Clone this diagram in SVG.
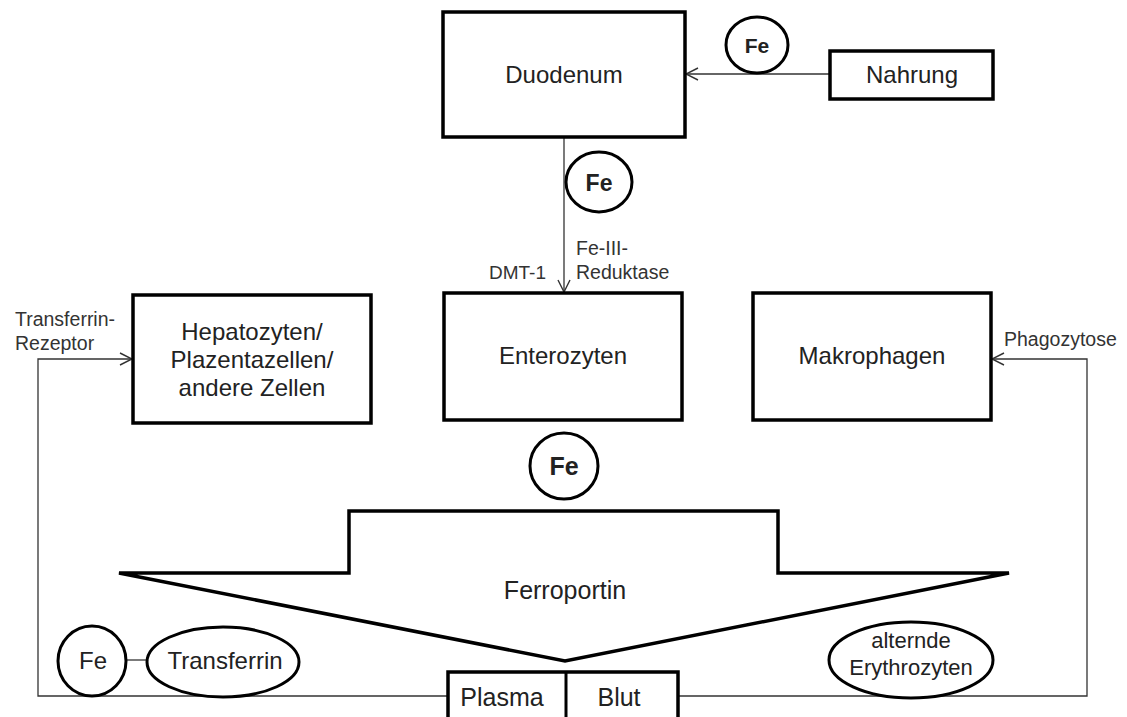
<svg xmlns="http://www.w3.org/2000/svg" width="1127" height="717" viewBox="0 0 1127 717">
<style>
.box{fill:#fff;stroke:#000;stroke-width:3.5}
.ell{fill:#fff;stroke:#000;stroke-width:3}
.con{fill:none;stroke:#333;stroke-width:1.3}
.t{font-family:"Liberation Sans",Arial,sans-serif;font-size:24px;fill:#222;text-anchor:middle}
.s{font-family:"Liberation Sans",Arial,sans-serif;font-size:19.5px;fill:#333}
.b{font-weight:bold}
</style>
<defs>
<marker id="arr" markerUnits="userSpaceOnUse" markerWidth="14" markerHeight="14" viewBox="0 0 14 14" refX="13" refY="7" orient="auto">
<path d="M1,1 L13,7 L1,13" fill="none" stroke="#333" stroke-width="1.4"/>
</marker>
</defs>
<rect width="1127" height="717" fill="#fff"/>
<g id="connectors">
<line class="con" x1="830" y1="74" x2="686" y2="74" marker-end="url(#arr)"/>
<line class="con" x1="564" y1="137" x2="564" y2="292" marker-end="url(#arr)"/>
<polyline class="con" points="448,696 38,696 38,359 132,359" marker-end="url(#arr)"/>
<polyline class="con" points="678,696 1087,696 1087,359 992,359" marker-end="url(#arr)"/>
<line class="con" x1="126" y1="660" x2="148" y2="660"/>
</g>
<g id="duodenum">
<rect class="box" x="443" y="12" width="242" height="125"/>
<text class="t" x="564" y="83">Duodenum</text>
</g>
<g id="nahrung">
<rect class="box" x="830" y="51" width="163" height="48"/>
<text class="t" x="912" y="83">Nahrung</text>
</g>
<g id="fe-top">
<ellipse class="ell" cx="757" cy="45" rx="31" ry="28"/>
<text class="t b" x="757" y="53" style="font-size:21px">Fe</text>
</g>
<g id="fe-mid">
<ellipse class="ell" cx="599" cy="182" rx="33" ry="30"/>
<text class="t b" x="599" y="191" style="font-size:23px">Fe</text>
</g>
<g id="labels-dmt">
<text class="s" x="546" y="279" text-anchor="end" style="font-size:19px">DMT-1</text>
<text class="s" x="576" y="255">Fe-III-</text>
<text class="s" x="576" y="279">Reduktase</text>
</g>
<g id="hepatozyten">
<rect class="box" x="133" y="295" width="238" height="128"/>
<text class="t" x="252" y="340">Hepatozyten/</text>
<text class="t" x="252" y="368">Plazentazellen/</text>
<text class="t" x="252" y="396">andere Zellen</text>
</g>
<g id="label-transferrin-rezeptor">
<text class="s" x="15" y="326">Transferrin-</text>
<text class="s" x="15" y="350">Rezeptor</text>
</g>
<g id="enterozyten">
<rect class="box" x="444" y="293" width="238" height="127"/>
<text class="t" x="563" y="364">Enterozyten</text>
</g>
<g id="makrophagen">
<rect class="box" x="753" y="293" width="238" height="127"/>
<text class="t" x="872" y="364">Makrophagen</text>
</g>
<g id="label-phagozytose">
<text class="s" x="1004" y="346">Phagozytose</text>
</g>
<g id="fe-low">
<ellipse class="ell" cx="564" cy="466" rx="34" ry="33"/>
<text class="t b" x="564" y="475" style="font-size:25px">Fe</text>
</g>
<g id="ferroportin">
<polygon class="box" points="349,511 778,511 778,573 1009,573 565,661 119,573 349,573"/>
<text class="t" x="565" y="599" style="font-size:25px">Ferroportin</text>
</g>
<g id="fe-transferrin">
<ellipse class="ell" cx="92" cy="661" rx="34" ry="35"/>
<text class="t" x="93" y="669">Fe</text>
</g>
<g id="transferrin">
<ellipse class="ell" cx="223" cy="662" rx="76" ry="35"/>
<text class="t" x="225" y="669">Transferrin</text>
</g>
<g id="erythrozyten">
<ellipse class="ell" cx="911" cy="660" rx="82" ry="38"/>
<text class="t" x="911" y="648" style="font-size:22px">alternde</text>
<text class="t" x="911" y="675" style="font-size:22px">Erythrozyten</text>
</g>
<g id="plasma-blut">
<rect class="box" x="448" y="672" width="230" height="50"/>
<line x1="566" y1="672" x2="566" y2="717" stroke="#000" stroke-width="3"/>
<text class="t" x="502" y="706" style="font-size:25px">Plasma</text>
<text class="t" x="619" y="706" style="font-size:25px">Blut</text>
</g>
</svg>
